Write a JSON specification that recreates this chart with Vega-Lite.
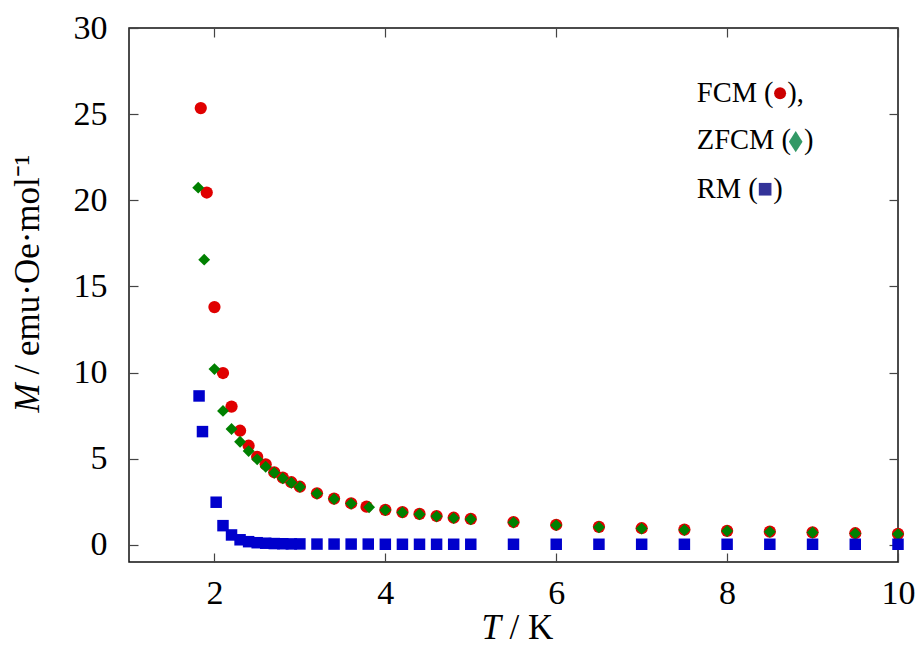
{
  "$schema": "https://vega.github.io/schema/vega-lite/v6.json",
  "width": 769,
  "height": 534,
  "autosize": {"type": "none"},
  "padding": {"left": 129, "top": 28, "right": 21, "bottom": 84},
  "background": "white",
  "config": {
    "font": "Liberation Serif",
    "view": {"stroke": "#111", "strokeWidth": 1.5},
    "axis": {
      "domain": false,
      "grid": false,
      "tickSize": -9,
      "tickColor": "#444",
      "tickWidth": 1.2,
      "labelFlush": false,
      "labelFont": "Liberation Serif",
      "labelFontSize": 34,
      "labelColor": "#000",
      "titleFont": "Liberation Serif",
      "titleFontSize": 35,
      "titleFontWeight": "normal",
      "titleColor": "#000"
    }
  },
  "resolve": {"axis": {"x": "independent", "y": "independent"}},
  "layer": [
    {
      "data": {
        "values": [
          {"series": "FCM", "T": 1.84, "M": 25.35},
          {"series": "FCM", "T": 1.91, "M": 20.45},
          {"series": "FCM", "T": 2.0, "M": 13.8},
          {"series": "FCM", "T": 2.1, "M": 9.97},
          {"series": "FCM", "T": 2.2, "M": 8.02},
          {"series": "FCM", "T": 2.3, "M": 6.62},
          {"series": "FCM", "T": 2.4, "M": 5.75},
          {"series": "FCM", "T": 2.5, "M": 5.11},
          {"series": "FCM", "T": 2.6, "M": 4.67},
          {"series": "FCM", "T": 2.7, "M": 4.21},
          {"series": "FCM", "T": 2.8, "M": 3.9},
          {"series": "FCM", "T": 2.9, "M": 3.63},
          {"series": "FCM", "T": 3.0, "M": 3.37},
          {"series": "FCM", "T": 3.2, "M": 2.99},
          {"series": "FCM", "T": 3.4, "M": 2.68},
          {"series": "FCM", "T": 3.6, "M": 2.41},
          {"series": "FCM", "T": 3.78, "M": 2.21},
          {"series": "FCM", "T": 4.0, "M": 2.03},
          {"series": "FCM", "T": 4.2, "M": 1.9},
          {"series": "FCM", "T": 4.4, "M": 1.79},
          {"series": "FCM", "T": 4.6, "M": 1.67},
          {"series": "FCM", "T": 4.8, "M": 1.57},
          {"series": "FCM", "T": 5.0, "M": 1.5},
          {"series": "FCM", "T": 5.5, "M": 1.32},
          {"series": "FCM", "T": 6.0, "M": 1.16},
          {"series": "FCM", "T": 6.5, "M": 1.04},
          {"series": "FCM", "T": 7.0, "M": 0.96},
          {"series": "FCM", "T": 7.5, "M": 0.88},
          {"series": "FCM", "T": 8.0, "M": 0.81},
          {"series": "FCM", "T": 8.5, "M": 0.76},
          {"series": "FCM", "T": 9.0, "M": 0.72},
          {"series": "FCM", "T": 9.5, "M": 0.67},
          {"series": "FCM", "T": 10.0, "M": 0.63},
          {"series": "ZFCM", "T": 1.81, "M": 20.73},
          {"series": "ZFCM", "T": 1.88, "M": 16.55},
          {"series": "ZFCM", "T": 2.0, "M": 10.2},
          {"series": "ZFCM", "T": 2.1, "M": 7.77},
          {"series": "ZFCM", "T": 2.2, "M": 6.72},
          {"series": "ZFCM", "T": 2.3, "M": 5.98},
          {"series": "ZFCM", "T": 2.4, "M": 5.44},
          {"series": "ZFCM", "T": 2.5, "M": 4.96},
          {"series": "ZFCM", "T": 2.6, "M": 4.53},
          {"series": "ZFCM", "T": 2.7, "M": 4.18},
          {"series": "ZFCM", "T": 2.8, "M": 3.86},
          {"series": "ZFCM", "T": 2.9, "M": 3.6},
          {"series": "ZFCM", "T": 3.0, "M": 3.36},
          {"series": "ZFCM", "T": 3.2, "M": 2.97},
          {"series": "ZFCM", "T": 3.4, "M": 2.66},
          {"series": "ZFCM", "T": 3.6, "M": 2.39},
          {"series": "ZFCM", "T": 3.81, "M": 2.18},
          {"series": "ZFCM", "T": 4.0, "M": 2.01},
          {"series": "ZFCM", "T": 4.2, "M": 1.88},
          {"series": "ZFCM", "T": 4.4, "M": 1.77},
          {"series": "ZFCM", "T": 4.6, "M": 1.65},
          {"series": "ZFCM", "T": 4.8, "M": 1.55},
          {"series": "ZFCM", "T": 5.0, "M": 1.48},
          {"series": "ZFCM", "T": 5.5, "M": 1.3},
          {"series": "ZFCM", "T": 6.0, "M": 1.14},
          {"series": "ZFCM", "T": 6.5, "M": 1.02},
          {"series": "ZFCM", "T": 7.0, "M": 0.94},
          {"series": "ZFCM", "T": 7.5, "M": 0.86},
          {"series": "ZFCM", "T": 8.0, "M": 0.8},
          {"series": "ZFCM", "T": 8.5, "M": 0.75},
          {"series": "ZFCM", "T": 9.0, "M": 0.71},
          {"series": "ZFCM", "T": 9.5, "M": 0.66},
          {"series": "ZFCM", "T": 10.0, "M": 0.62},
          {"series": "RM", "T": 1.82, "M": 8.64},
          {"series": "RM", "T": 1.86, "M": 6.57},
          {"series": "RM", "T": 2.02, "M": 2.47},
          {"series": "RM", "T": 2.1, "M": 1.11},
          {"series": "RM", "T": 2.2, "M": 0.57},
          {"series": "RM", "T": 2.3, "M": 0.29},
          {"series": "RM", "T": 2.4, "M": 0.18},
          {"series": "RM", "T": 2.5, "M": 0.12},
          {"series": "RM", "T": 2.6, "M": 0.09},
          {"series": "RM", "T": 2.7, "M": 0.07},
          {"series": "RM", "T": 2.8, "M": 0.06},
          {"series": "RM", "T": 2.9, "M": 0.05},
          {"series": "RM", "T": 3.0, "M": 0.05},
          {"series": "RM", "T": 3.2, "M": 0.04},
          {"series": "RM", "T": 3.4, "M": 0.04},
          {"series": "RM", "T": 3.6, "M": 0.04},
          {"series": "RM", "T": 3.8, "M": 0.04},
          {"series": "RM", "T": 4.0, "M": 0.03},
          {"series": "RM", "T": 4.2, "M": 0.03},
          {"series": "RM", "T": 4.4, "M": 0.03},
          {"series": "RM", "T": 4.6, "M": 0.03},
          {"series": "RM", "T": 4.8, "M": 0.03},
          {"series": "RM", "T": 5.0, "M": 0.03},
          {"series": "RM", "T": 5.5, "M": 0.03},
          {"series": "RM", "T": 6.0, "M": 0.03},
          {"series": "RM", "T": 6.5, "M": 0.03},
          {"series": "RM", "T": 7.0, "M": 0.03},
          {"series": "RM", "T": 7.5, "M": 0.03},
          {"series": "RM", "T": 8.0, "M": 0.03},
          {"series": "RM", "T": 8.5, "M": 0.03},
          {"series": "RM", "T": 9.0, "M": 0.03},
          {"series": "RM", "T": 9.5, "M": 0.03},
          {"series": "RM", "T": 10.0, "M": 0.03}
        ]
      },
      "mark": {"type": "point", "filled": true, "opacity": 1, "strokeWidth": 0},
      "encoding": {
        "x": {
          "field": "T", "type": "quantitative",
          "scale": {"domain": [1, 10], "nice": false, "zero": false},
          "axis": {
            "orient": "bottom", "values": [2, 4, 6, 8, 10], "labelPadding": 23,
            "title": "T", "titleFontStyle": "italic", "titleAlign": "left",
            "titleBaseline": "alphabetic", "titleX": 352, "titleY": 76
          }
        },
        "y": {
          "field": "M", "type": "quantitative",
          "scale": {"domain": [-1, 30], "nice": false, "zero": false},
          "axis": {
            "orient": "left", "values": [0, 5, 10, 15, 20, 25, 30], "labelPadding": 31,
            "title": "M", "titleFontStyle": "italic", "titleAngle": -90, "titleAlign": "left",
            "titleBaseline": "alphabetic", "titleX": -91, "titleY": 384
          }
        },
        "color": {"field": "series", "type": "nominal", "scale": {"domain": ["FCM", "ZFCM", "RM"], "range": ["#e00000", "#008000", "#0000cc"]}, "legend": null},
        "shape": {"field": "series", "type": "nominal", "scale": {"domain": ["FCM", "ZFCM", "RM"], "range": ["circle", "diamond", "square"]}, "legend": null},
        "size": {"field": "series", "type": "ordinal", "scale": {"domain": ["FCM", "ZFCM", "RM"], "range": [150, 132, 110]}, "legend": null}
      }
    },
    {
      "data": {
        "values": [
          {"T": 7.645, "M": 25.72, "txt": "FCM ("},
          {"T": 8.705, "M": 25.72, "txt": "),"},
          {"T": 7.645, "M": 22.96, "txt": "ZFCM ("},
          {"T": 8.9, "M": 22.96, "txt": ")"},
          {"T": 7.645, "M": 20.11, "txt": "RM ("},
          {"T": 8.541, "M": 20.11, "txt": ")"}
        ]
      },
      "mark": {"type": "text", "align": "left", "baseline": "alphabetic", "fontSize": 28.5, "font": "Liberation Serif", "color": "#000"},
      "encoding": {
        "x": {
          "field": "T", "type": "quantitative",
          "scale": {"domain": [1, 10], "nice": false, "zero": false},
          "axis": {
            "orient": "top", "values": [2, 4, 6, 8, 10], "labels": false,
            "title": "/ K", "titleAlign": "left", "titleBaseline": "alphabetic",
            "titleX": 380, "titleY": 610
          }
        },
        "y": {
          "field": "M", "type": "quantitative",
          "scale": {"domain": [-1, 30], "nice": false, "zero": false},
          "axis": {
            "orient": "right", "values": [0, 5, 10, 15, 20, 25, 30], "labels": false,
            "title": "/ emu·Oe·mol⁻¹", "titleAngle": -90, "titleAlign": "left",
            "titleBaseline": "alphabetic", "titleX": -860, "titleY": 346
          }
        },
        "text": {"field": "txt", "type": "nominal"}
      }
    },
    {
      "data": {"values": [{"T": 8.62, "M": 26.21}]},
      "mark": {"type": "point", "shape": "circle", "filled": true, "opacity": 1, "strokeWidth": 0, "size": 144, "color": "#cc0000"},
      "encoding": {
        "x": {"field": "T", "type": "quantitative", "axis": null},
        "y": {"field": "M", "type": "quantitative", "axis": null}
      }
    },
    {
      "data": {"values": [{"T": 8.803, "M": 23.4}]},
      "mark": {"type": "point", "shape": "M0,-1.25L0.8,0L0,1.25L-0.8,0Z", "filled": true, "opacity": 1, "strokeWidth": 0, "size": 290, "color": "#339966"},
      "encoding": {
        "x": {"field": "T", "type": "quantitative", "axis": null},
        "y": {"field": "M", "type": "quantitative", "axis": null}
      }
    },
    {
      "data": {"values": [{"T": 8.445, "M": 20.64}]},
      "mark": {"type": "point", "shape": "square", "filled": true, "opacity": 1, "strokeWidth": 0, "size": 160, "color": "#333399"},
      "encoding": {
        "x": {"field": "T", "type": "quantitative", "axis": null},
        "y": {"field": "M", "type": "quantitative", "axis": null}
      }
    }
  ]
}
